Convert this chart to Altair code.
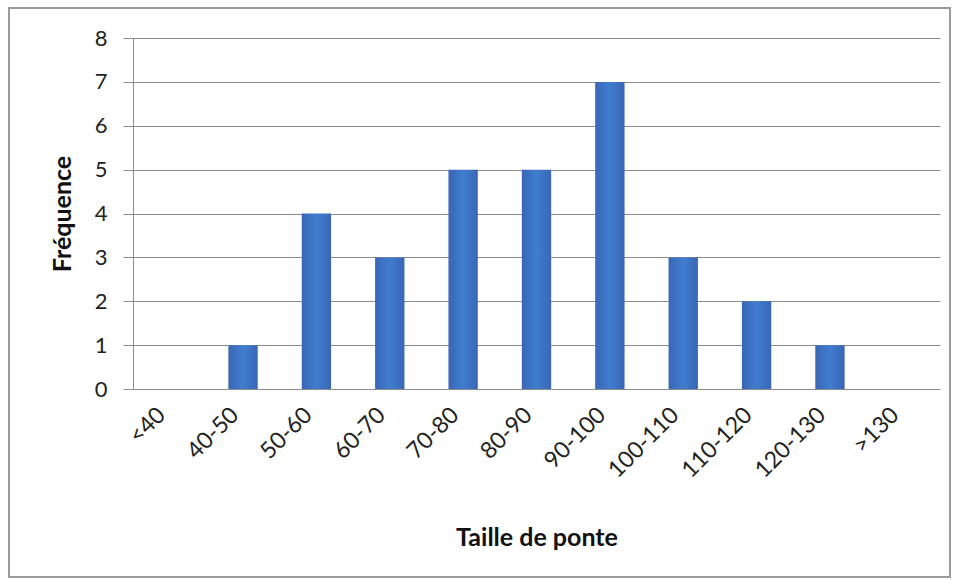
import altair as alt
import pandas as pd

classes = ["<40", "40-50", "50-60", "60-70", "70-80", "80-90", "90-100",
           "100-110", "110-120", "120-130", ">130"]
frequences = [0, 1, 4, 3, 5, 5, 7, 3, 2, 1, 0]

df = pd.DataFrame({"classe": classes, "freq": frequences})

W, H = 807, 351
FONT = "Lato"

bar_fill = alt.LinearGradient(
    gradient="linear", x1=0, x2=1, y1=0, y2=0,
    stops=[alt.GradientStop(offset=0, color="#3a66b6"),
           alt.GradientStop(offset=0.5, color="#3f7dcf"),
           alt.GradientStop(offset=1, color="#3a66b6")],
)

bars = alt.Chart(df).mark_bar(
    color=bar_fill,
).encode(
    x=alt.X("classe:N", sort=classes,
            scale=alt.Scale(paddingInner=0.6, paddingOuter=0.3),
            axis=alt.Axis(title="Taille de ponte", labelAngle=-45,
                          labelAlign="right", labelBaseline="middle",
                          labelPadding=22, labelOffset=-8,
                          labelFontSize=23, labelFont=FONT, labelColor="#222222",
                          titleFont=FONT, titleFontSize=25, titleFontWeight="bold",
                          titleColor="#111111", titleY=148, titleBaseline="middle",
                          ticks=False, domain=False, grid=False)),
    y=alt.Y("freq:Q", scale=alt.Scale(domain=[0, 8], nice=False),
            axis=alt.Axis(title="Fréquence", values=list(range(9)),
                          labelFontSize=22, labelFont=FONT, labelColor="#222222",
                          labelPadding=16, tickSize=10, tickColor="#8c8c8c",
                          domainColor="#8c8c8c", gridColor="#8c8c8c",
                          labelOverlap=False,
                          titleFont=FONT, titleFontSize=25, titleFontWeight="bold",
                          titleColor="#111111", titleX=-71, titleY=H / 2,
                          titleAngle=-90, titleBaseline="middle", titleAlign="center")),
)

# outer frame around the whole chart
frame = alt.Chart(df).mark_rect(
    fill=None, stroke="#9a9a9a", strokeWidth=2, clip=False,
).encode(
    x=alt.value(-124), x2=alt.value(817), y=alt.value(-30), y2=alt.value(188 + H),
)

chart = alt.layer(frame, bars).properties(
    width=W, height=H,
    padding={"left": 133, "top": 38, "right": 18, "bottom": 191},
    autosize=alt.AutoSizeParams(type="none"),
    background="white",
).configure_view(stroke=None)

chart.save("out.html", embed_options={"renderer": "svg", "actions": False})
